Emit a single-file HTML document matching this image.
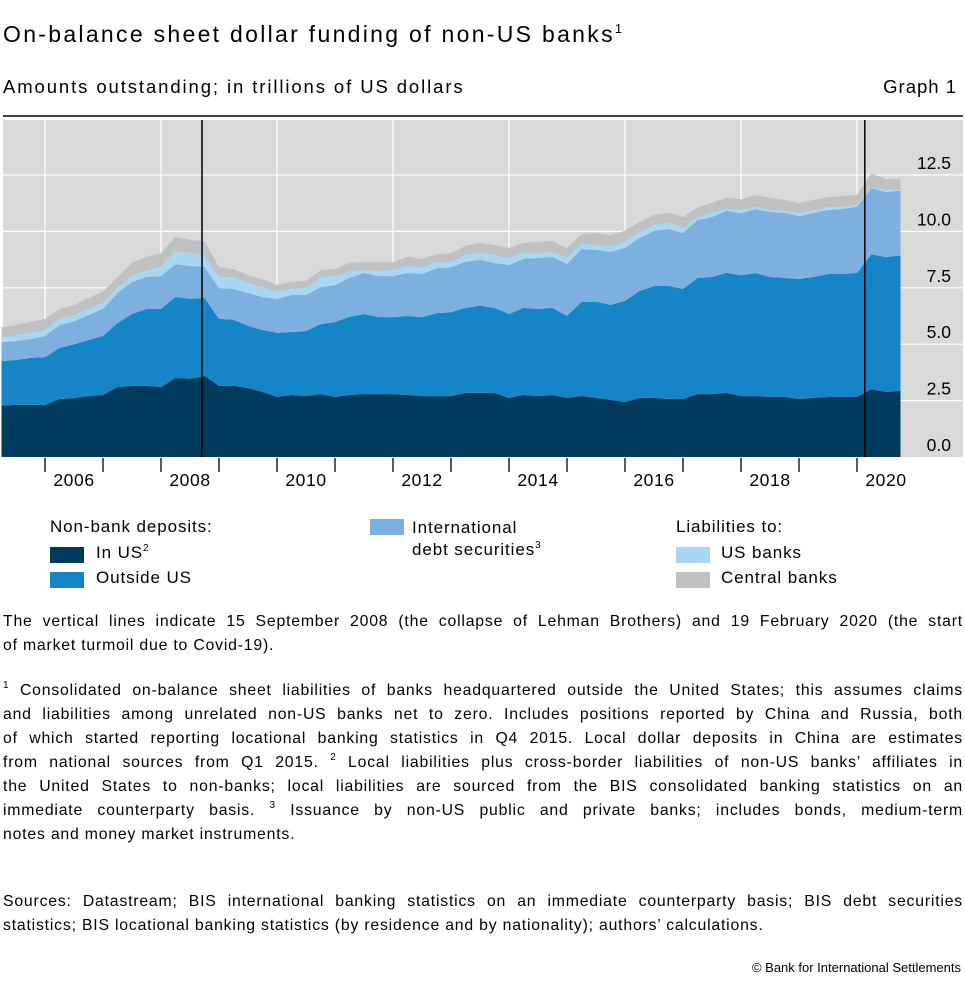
<!DOCTYPE html>
<html><head><meta charset="utf-8"><style>
body{margin:0;width:965px;height:983px;background:#fff;font-family:"Liberation Sans",sans-serif;color:#000;position:relative;overflow:hidden}
.a{position:absolute;white-space:nowrap}
.j{position:absolute;left:3px;width:960px;font-size:15.8px;letter-spacing:0.8px;white-space:nowrap;text-align:justify;text-align-last:justify}
.sw{position:absolute;width:34px;height:16px}
sup{font-size:10px;vertical-align:7px;line-height:0}
.lg{font-size:17px;letter-spacing:0.9px}
</style></head><body>
<div class="a" style="left:3px;top:21px;font-size:23px;letter-spacing:2.3px">On-balance sheet dollar funding of non-US banks<sup style="font-size:13px;vertical-align:9px;letter-spacing:0">1</sup></div>
<div class="a" style="left:3px;top:76px;font-size:18.5px;letter-spacing:1.9px">Amounts outstanding; in trillions of US dollars</div>
<div class="a" style="right:8px;top:76px;font-size:18.5px;letter-spacing:1px">Graph 1</div>
<svg id="chart" style="position:absolute;left:0;top:110px" width="965" height="380"></svg>
<div class="a lg" style="left:50px;top:517px">Non-bank deposits:</div>
<div class="sw" style="left:50px;top:547px;background:#003a5d"></div>
<div class="a lg" style="left:96px;top:543px">In US<sup>2</sup></div>
<div class="sw" style="left:50px;top:572px;background:#1585c8"></div>
<div class="a lg" style="left:96px;top:568px">Outside US</div>
<div class="sw" style="left:370px;top:519px;background:#7eb0df"></div>
<div class="a lg" style="left:412px;top:517px;line-height:22px">International<br>debt securities<sup>3</sup></div>
<div class="a lg" style="left:676px;top:517px">Liabilities to:</div>
<div class="sw" style="left:676px;top:547px;background:#a6d8f5"></div>
<div class="a lg" style="left:721px;top:543px">US banks</div>
<div class="sw" style="left:676px;top:572px;background:#bfc0c2"></div>
<div class="a lg" style="left:721px;top:568px">Central banks</div>
<div>
<div class="j" style="top:613px">The vertical lines indicate 15 September 2008 (the collapse of Lehman Brothers) and 19 February 2020 (the start</div>
<div class="j" style="top:637px;text-align-last:left">of market turmoil due to Covid-19).</div>
</div>
<div>
<div class="j" style="top:682px"><sup>1</sup> Consolidated on-balance sheet liabilities of banks headquartered outside the United States; this assumes claims</div>
<div class="j" style="top:706px">and liabilities among unrelated non-US banks net to zero. Includes positions reported by China and Russia, both</div>
<div class="j" style="top:730px">of which started reporting locational banking statistics in Q4 2015. Local dollar deposits in China are estimates</div>
<div class="j" style="top:754px">from national sources from Q1 2015. <sup>2</sup> Local liabilities plus cross-border liabilities of non-US banks’ affiliates in</div>
<div class="j" style="top:778px">the United States to non-banks; local liabilities are sourced from the BIS consolidated banking statistics on an</div>
<div class="j" style="top:802px">immediate counterparty basis. <sup>3</sup> Issuance by non-US public and private banks; includes bonds, medium-term</div>
<div class="j" style="top:826px;text-align-last:left">notes and money market instruments.</div>
</div>
<div>
<div class="j" style="top:893px">Sources: Datastream; BIS international banking statistics on an immediate counterparty basis; BIS debt securities</div>
<div class="j" style="top:917px;text-align-last:left">statistics; BIS locational banking statistics (by residence and by nationality); authors’ calculations.</div>
</div>
<div class="a" style="right:4px;top:960px;font-size:13px">© Bank for International Settlements</div>
<script>
const startYear = 2005.25;
const inUS = [2.27,2.32,2.32,2.30,2.57,2.61,2.70,2.75,3.10,3.15,3.15,3.10,3.50,3.46,3.59,3.15,3.15,3.06,2.88,2.66,2.75,2.70,2.79,2.66,2.75,2.79,2.79,2.79,2.75,2.70,2.70,2.70,2.84,2.84,2.84,2.62,2.75,2.70,2.75,2.62,2.70,2.62,2.53,2.44,2.62,2.62,2.57,2.57,2.79,2.79,2.84,2.70,2.70,2.66,2.66,2.57,2.62,2.66,2.66,2.66,3.01,2.88,2.93];
const outsideUS = [1.98,1.98,2.07,2.13,2.26,2.39,2.48,2.62,2.84,3.19,3.41,3.46,3.59,3.55,3.46,2.97,2.93,2.75,2.75,2.84,2.79,2.88,3.10,3.32,3.46,3.55,3.41,3.41,3.50,3.50,3.68,3.72,3.77,3.86,3.77,3.72,3.86,3.86,3.86,3.63,4.17,4.26,4.21,4.48,4.74,4.96,5.01,4.88,5.14,5.19,5.32,5.36,5.45,5.32,5.28,5.32,5.36,5.45,5.45,5.50,5.98,5.98,6.00];
const debtSec = [0.84,0.84,0.84,0.93,1.02,1.02,1.11,1.20,1.33,1.42,1.42,1.46,1.46,1.46,1.37,1.37,1.37,1.46,1.46,1.51,1.64,1.60,1.64,1.64,1.73,1.82,1.82,1.82,1.91,1.91,1.99,1.99,2.04,2.04,1.99,2.17,2.17,2.26,2.26,2.30,2.35,2.30,2.35,2.35,2.35,2.44,2.53,2.48,2.57,2.66,2.75,2.75,2.84,2.88,2.88,2.79,2.84,2.84,2.88,2.93,2.93,2.88,2.88];
const usBanks = [0.22,0.27,0.27,0.27,0.27,0.27,0.27,0.27,0.22,0.27,0.27,0.40,0.58,0.58,0.49,0.49,0.53,0.44,0.44,0.31,0.27,0.31,0.44,0.40,0.27,0.13,0.22,0.27,0.31,0.27,0.27,0.22,0.31,0.31,0.35,0.31,0.27,0.22,0.22,0.27,0.22,0.22,0.22,0.27,0.27,0.27,0.27,0.22,0.13,0.18,0.09,0.13,0.09,0.09,0.09,0.13,0.09,0.13,0.09,0.09,0.04,0.09,0.04];
const centralBanks = [0.44,0.44,0.49,0.49,0.44,0.44,0.49,0.49,0.49,0.58,0.62,0.62,0.62,0.58,0.66,0.44,0.35,0.35,0.35,0.31,0.31,0.31,0.31,0.31,0.40,0.35,0.40,0.35,0.40,0.40,0.35,0.40,0.40,0.44,0.44,0.44,0.44,0.49,0.49,0.44,0.44,0.53,0.53,0.49,0.44,0.44,0.44,0.49,0.44,0.44,0.49,0.49,0.53,0.53,0.49,0.44,0.49,0.44,0.49,0.44,0.62,0.49,0.49];
const yTicks = [0,2.5,5,7.5,10,12.5];
const yTickLabels = ["0.0","2.5","5.0","7.5","10.0","12.5"];
const yearLabels = [2006,2008,2010,2012,2014,2016,2018,2020];
const eventDates = [2008.707,2020.135];
const seriesNames = ["in-us","outside-us","debt-securities","us-banks","central-banks"];
const colors = ["#003a5d","#1585c8","#7eb0df","#a6d8f5","#bfc0c2"];

const OY = 110;
function x(t){return 45 + (t-2006)*58;}
function y(v){return 457 - v*22.56 - OY;}
const NS="http://www.w3.org/2000/svg";
const svg=document.getElementById('chart');
function mk(tag,attrs){const e=document.createElementNS(NS,tag);for(const k in attrs)e.setAttribute(k,attrs[k]);svg.appendChild(e);return e;}
let r=mk('rect',{x:3,y:120-OY,width:960,height:337,fill:'#d9d9d9'});


let tl=mk('line',{x1:3,x2:963,y1:116-OY,y2:116-OY,stroke:'#000','stroke-width':1.5});


for(let i=1;i<yTicks.length;i++){
  const g=mk('line',{x1:3,x2:963,y1:y(yTicks[i]),y2:y(yTicks[i]),stroke:'#fff','stroke-width':1.2});
  
  
}
for(let yr=2006;yr<=2020;yr+=2){
  const g=mk('line',{x1:x(yr),x2:x(yr),y1:120-OY,y2:457-OY,stroke:'#fff','stroke-width':1.2});
  
  
}
const series=[inUS,outsideUS,debtSec,usBanks,centralBanks];
const n=inUS.length;
let base=new Array(n).fill(0);
series.forEach((s,k)=>{
  const top=base.map((b,i)=>b+s[i]);
  let d='';
  for(let i=0;i<n;i++){d+=(i?'L':'M')+x(startYear+i*0.25).toFixed(1)+','+y(top[i]).toFixed(1);}
  for(let i=n-1;i>=0;i--){d+='L'+x(startYear+i*0.25).toFixed(1)+','+y(base[i]).toFixed(1);}
  const p=mk('path',{d:d+'Z',fill:colors[k]});
  
  
  base=top;
});
eventDates.forEach(t=>{
  const l=mk('line',{x1:x(t),x2:x(t),y1:120-OY,y2:457-OY,stroke:'#000','stroke-width':1.5});
  
  
});
yTicks.forEach((v,i)=>{
  const t=mk('text',{x:951,y:y(v)-6,'text-anchor':'end','font-size':17.5,'font-family':'Liberation Sans, sans-serif'});
  t.textContent=yTickLabels[i];
  
  
});
for(let yr=2006;yr<=2020;yr++){
  const tk=mk('line',{x1:x(yr),x2:x(yr),y1:458-OY,y2:472-OY,stroke:'#000','stroke-width':1.3});
  
  
}
yearLabels.forEach(yr=>{
  const t=mk('text',{x:x(yr+0.5),y:486-OY,'text-anchor':'middle','font-size':17.5,'letter-spacing':0.6,'font-family':'Liberation Sans, sans-serif'});
  t.textContent=yr;
  
  
});
</script>
</body></html>
